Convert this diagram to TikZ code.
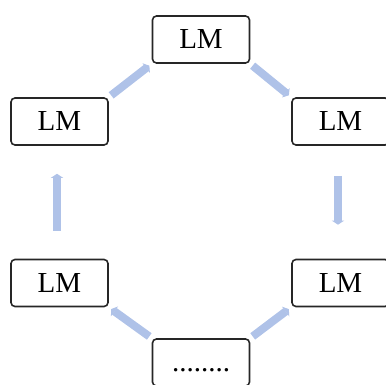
\documentclass[tikz,border=0pt]{standalone}
\usepackage{fontspec}
\setmainfont{Liberation Serif}
\usetikzlibrary{arrows.meta}
\definecolor{flowblue}{HTML}{AFC2E8}
\begin{document}
\begin{tikzpicture}[x=1pt,y=-1pt,
  lmbox/.style={draw=black!85,line width=1.6pt,rounded corners=4pt,minimum width=97pt,minimum height=47pt,inner sep=0pt,font=\fontsize{29}{32}\selectfont},
  flow/.style={draw=flowblue,line width=8pt,-{Triangle[length=4pt,width=12pt]}}]
\useasboundingbox (0,0) rectangle (386,385);
\node[lmbox] (top) at (201,39.5) {LM};
\node[lmbox] (left) at (59.5,121.5) {LM};
\node[lmbox] (right) at (340.5,121.5) {LM};
\node[lmbox] (bl) at (59.5,283) {LM};
\node[lmbox] (br) at (340.5,283) {LM};
\node[lmbox] (bot) at (201,362.5) {};
\node[font=\fontsize{29}{32}\selectfont] (dots) at (201,370) {........};
\draw[flow,shorten <=3pt,shorten >=3pt] (top.south east) -- (right.north west);
\draw[flow,shorten <=30pt,shorten >=34pt] (right.south -| 338,0) -- (br.north -| 338,0);
\draw[flow,shorten <=3pt,shorten >=3pt] (bot.north east) -- (br.south west);
\draw[flow,shorten <=3pt,shorten >=3pt] (bot.north west) -- (bl.south east);
\draw[flow,shorten <=28pt,shorten >=28pt] (bl.north -| 57,0) -- (left.south -| 57,0);
\draw[flow,shorten <=3pt,shorten >=3pt] (left.north east) -- (top.south west);
\end{tikzpicture}
\end{document}
